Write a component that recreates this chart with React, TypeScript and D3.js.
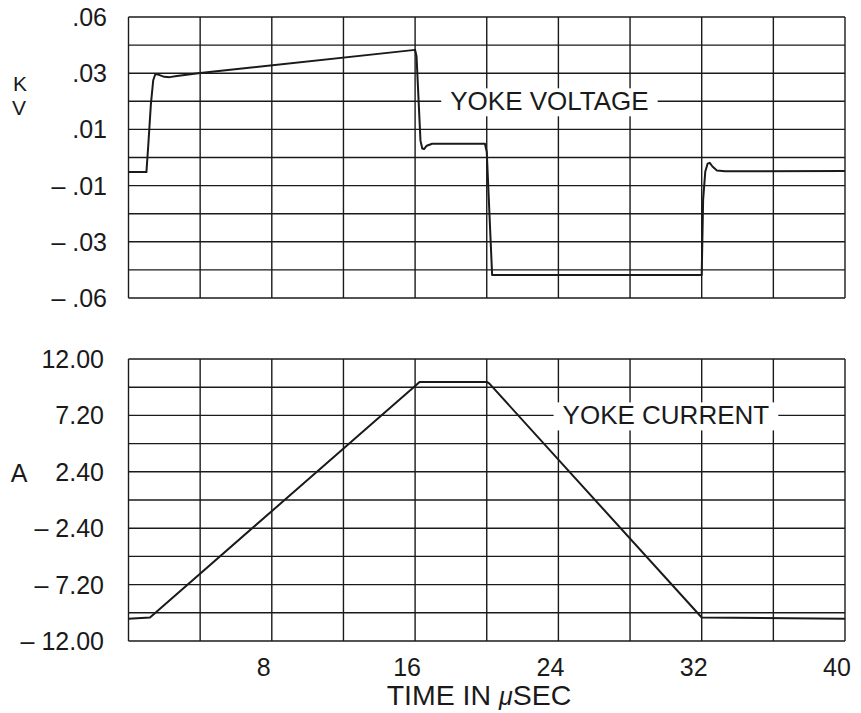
import { useEffect, useRef } from 'react'
import * as d3 from 'd3'

// time axis (microseconds)
const timeTicks = [8, 16, 24, 32, 40]

// yoke voltage trace (kV)
const voltageTime = [0, 1.0, 1.1, 1.25, 1.38, 1.5, 1.7, 2.0, 2.3, 2.7, 4.0, 16.0, 16.08, 16.3, 16.4, 16.5, 16.65, 16.95, 19.9, 20.0, 20.3, 32.0, 32.08, 32.2, 32.33, 32.45, 32.6, 32.85, 33.3, 40]
const voltageKV = [-0.0052, -0.0052, 0.004, 0.019, 0.0275, 0.0297, 0.0294, 0.0287, 0.0286, 0.029, 0.0301, 0.0383, 0.036, 0.006, 0.0032, 0.003, 0.0042, 0.0049, 0.0049, 0.002, -0.0418, -0.0418, -0.015, -0.005, -0.0022, -0.0019, -0.0032, -0.0046, -0.0049, -0.0048]
const voltageTickValues = [0.05, 0.03, 0.01, -0.01, -0.03, -0.05]
const voltageTickLabels = ['.06', '.03', '.01', '\u2013 .01', '\u2013 .03', '\u2013 .06']

// yoke current trace (A)
const currentTime = [0, 1.2, 16.0, 16.25, 20.0, 20.15, 32.0, 40]
const currentA = [-10.1, -10.0, 9.7, 10.05, 10.05, 9.9, -10.0, -10.1]
const currentTickValues = [12, 7.2, 2.4, -2.4, -7.2, -12]
const currentTickLabels = ['12.00', '7.20', '2.40', '\u2013 2.40', '\u2013 7.20', '\u2013 12.00']

const FONT = '"Liberation Sans", Arial, Helvetica, sans-serif'
const INK = '#1a1a1a'

function App() {
    const ref = useRef<SVGSVGElement>(null)

    useEffect(() => {
        const svg = d3.select(ref.current)
        svg.selectAll('*').remove()

        const x = d3.scaleLinear().domain([0, 40]).range([128.5, 845])
        const yV = d3.scaleLinear().domain([-0.05, 0.05]).range([298, 17])
        const yA = d3.scaleLinear().domain([-12, 12]).range([641, 359])

        const panel = (
            y: d3.ScaleLinear<number, number>,
            gridY: number[],
            tickValues: number[],
            tickLabels: string[],
            labelX: number,
            times: number[],
            values: number[],
            legend: string,
            legendT: number,
            legendV: number
        ) => {
            const g = svg.append('g')
            const [y0, y1] = y.range()

            // grid
            g.selectAll('.gx')
                .data(d3.range(0, 41, 4))
                .join('line')
                .attr('x1', d => x(d))
                .attr('x2', d => x(d))
                .attr('y1', y1)
                .attr('y2', y0)
                .attr('stroke', INK)
                .attr('stroke-width', 1.4)
            g.selectAll('.gy')
                .data(gridY)
                .join('line')
                .attr('x1', x(0))
                .attr('x2', x(40))
                .attr('y1', d => y(d))
                .attr('y2', d => y(d))
                .attr('stroke', INK)
                .attr('stroke-width', 1.4)

            // legend label with white box over the grid
            const lg = g.append('g')
            const txt = lg.append('text')
                .attr('x', x(legendT))
                .attr('y', y(legendV))
                .attr('text-anchor', 'middle')
                .attr('dominant-baseline', 'central')
                .attr('font-family', FONT)
                .attr('font-size', 26)
                .attr('fill', INK)
                .text(legend)
            const bb = (txt.node() as SVGTextElement).getBBox()
            lg.insert('rect', 'text')
                .attr('x', bb.x - 9)
                .attr('y', bb.y + 2)
                .attr('width', bb.width + 18)
                .attr('height', bb.height - 2)
                .attr('fill', 'white')

            // trace
            const line = d3.line<number>()
                .x((_, i) => x(times[i]))
                .y(d => y(d))
            g.append('path')
                .datum(values)
                .attr('d', line)
                .attr('fill', 'none')
                .attr('stroke', INK)
                .attr('stroke-width', 2)
                .attr('stroke-linejoin', 'round')

            // y tick labels
            g.selectAll('.yl')
                .data(tickValues)
                .join('text')
                .attr('x', labelX)
                .attr('y', d => y(d))
                .attr('text-anchor', 'end')
                .attr('dominant-baseline', 'central')
                .attr('font-family', FONT)
                .attr('font-size', 25)
                .attr('fill', INK)
                .text((_, i) => tickLabels[i])
        }

        panel(yV, d3.range(-5, 6).map(d => d / 100), voltageTickValues, voltageTickLabels, 107,
            voltageTime, voltageKV, 'YOKE VOLTAGE', 23.5, 0.02)
        panel(yA, d3.range(-5, 6).map(d => d * 2.4), currentTickValues, currentTickLabels, 104,
            currentTime, currentA, 'YOKE CURRENT', 30, 7.2)

        // unit labels
        const unit = (t: string, cx: number, baseline: number, size: number) =>
            svg.append('text')
                .attr('x', cx)
                .attr('y', baseline)
                .attr('text-anchor', 'middle')
                .attr('font-family', FONT)
                .attr('font-size', size)
                .attr('fill', INK)
                .text(t)
        unit('K', 20, 91, 21)
        unit('V', 19, 115, 21)
        unit('A', 19, 482, 25)

        // x tick labels
        svg.selectAll('.xl')
            .data(timeTicks)
            .join('text')
            .attr('x', d => x(d) - 8)
            .attr('y', 667)
            .attr('text-anchor', 'middle')
            .attr('dominant-baseline', 'central')
            .attr('font-family', FONT)
            .attr('font-size', 25)
            .attr('fill', INK)
            .text(d => d)

        // x axis title
        const title = svg.append('text')
            .attr('x', 479)
            .attr('y', 705)
            .attr('text-anchor', 'middle')
            .attr('font-family', FONT)
            .attr('font-size', 28.5)
            .attr('fill', INK)
        title.append('tspan').text('TIME IN ')
        title.append('tspan').attr('font-style', 'italic').attr('font-size', 25).text('\u03bc')
        title.append('tspan').text('SEC')
    }, [])

    return (
        <svg
            ref={ref}
            width={861}
            height={713}
            style={{ position: 'absolute', left: 0, top: 0, background: 'white' }}
        />
    )
}

export default App
